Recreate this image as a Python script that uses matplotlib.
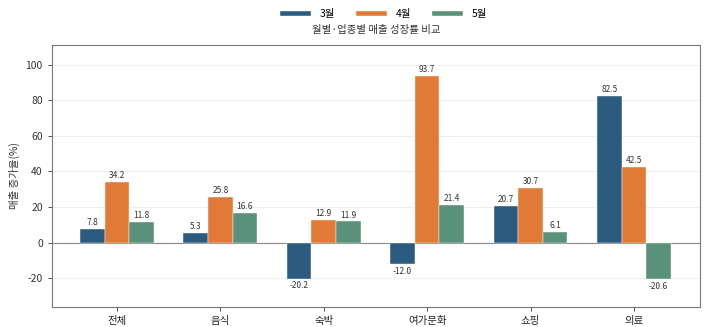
import matplotlib
matplotlib.use("Agg")
import matplotlib.pyplot as plt
import numpy as np

plt.rcParams['font.family'] = ['Noto Sans CJK KR', 'DejaVu Sans']
plt.rcParams['axes.unicode_minus'] = False

categories = ['전체', '음식', '숙박', '여가문화', '쇼핑', '의료']
series_names = ['3월', '4월', '5월']
mar = [7.8, 5.3, -20.2, -12.0, 20.7, 82.5]
apr = [34.2, 25.8, 12.9, 93.7, 30.7, 42.5]
may = [11.8, 16.6, 11.9, 21.4, 6.1, -20.6]
colors = ['#2b5b7f', '#e07a36', '#5a917a']

fig = plt.figure(figsize=(7.1, 3.27), dpi=100)
ax = fig.add_axes([0.073, 0.062, 0.913, 0.80])

x = np.arange(len(categories))
w = 0.238
for i, (vals, name, c) in enumerate(zip([mar, apr, may], series_names, colors)):
    ax.bar(x + (i - 1) * w, vals, w, color=c, label=name, zorder=3, edgecolor='white', linewidth=0.3)
    for xi, v in zip(x + (i - 1) * w, vals):
        if v >= 0:
            ax.text(xi, v + 1, f'{v:.1f}', ha='center', va='bottom', fontsize=6, color='#333333', zorder=4)
        else:
            ax.text(xi, v - 1.5, f'{v:.1f}', ha='center', va='top', fontsize=6, color='#333333', zorder=4)

ax.axhline(0, color='#888888', lw=0.8, zorder=2)
ax.set_xlim(-0.63, 5.64)
ax.set_ylim(-36, 111)
ax.set_yticks([-20, 0, 20, 40, 60, 80, 100])
ax.set_xticks(x)
ax.set_xticklabels(categories)
ax.tick_params(axis='both', labelsize=7.5, colors='#333333', length=3, width=0.6)
ax.tick_params(axis='x', labelcolor='#222222')
ax.yaxis.grid(True, color='#eeeeee', lw=0.8, zorder=0)
for s in ax.spines.values():
    s.set_color('#777777')
    s.set_linewidth(0.8)
ax.set_ylabel('매출 증가율(%)', fontsize=7.5, color='#333333')

ax.text(0.5, 1.04, '월별·업종별 매출 성장률 비교', transform=ax.transAxes, ha='center', va='bottom', fontsize=7.5, color='#333333')
fig.legend(loc='upper center', bbox_to_anchor=(0.54, 1.0), ncol=3, frameon=False, fontsize=7.5,
           handlelength=3.0, handleheight=0.4, columnspacing=2.0)

fig.savefig('out.png', dpi=100)
